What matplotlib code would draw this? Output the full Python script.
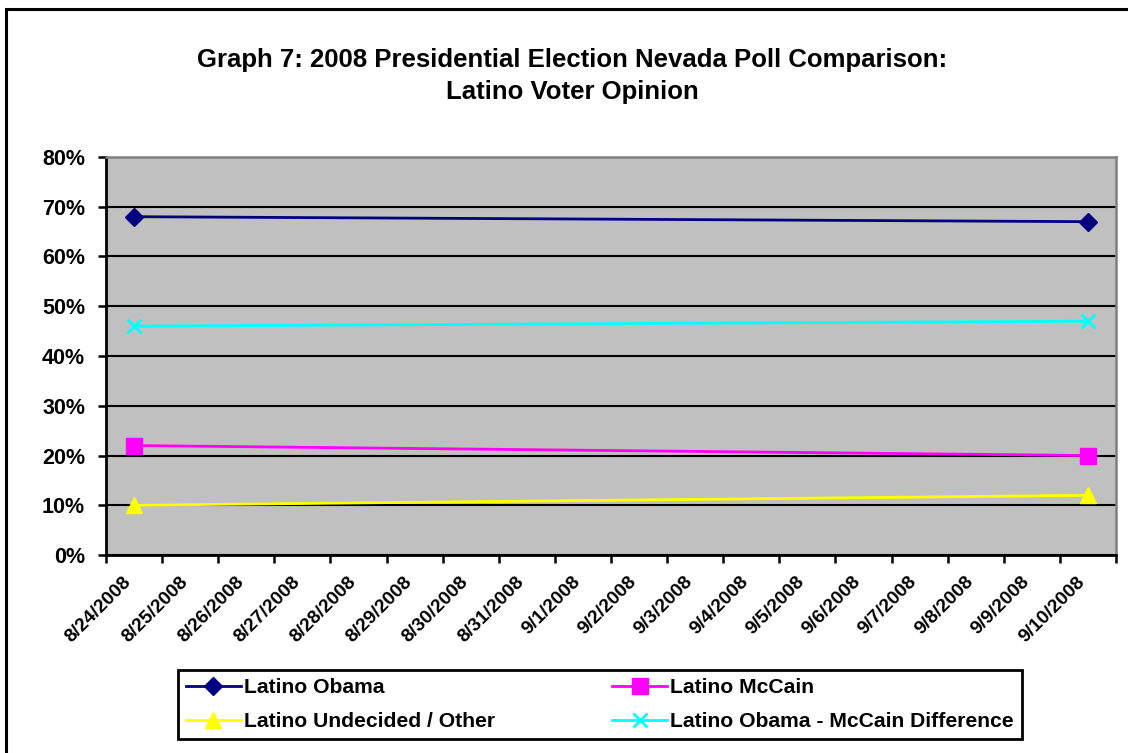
import matplotlib
matplotlib.use("Agg")
import matplotlib.pyplot as plt
from matplotlib.patches import Rectangle
from matplotlib.transforms import ScaledTranslation

# Poll dates shown along the category axis
dates = ["8/24/2008", "8/25/2008", "8/26/2008", "8/27/2008", "8/28/2008",
         "8/29/2008", "8/30/2008", "8/31/2008", "9/1/2008", "9/2/2008",
         "9/3/2008", "9/4/2008", "9/5/2008", "9/6/2008", "9/7/2008",
         "9/8/2008", "9/9/2008", "9/10/2008"]

# Poll dates that have readings (index into dates)
poll_idx = [0, 17]

# Shares in percent
obama = [68, 67]
mccain = [22, 20]
undecided = [10, 12]
difference = [46, 47]

y_ticks = [0, 10, 20, 30, 40, 50, 60, 70, 80]
y_labels = [f"{v}%" for v in y_ticks]

title = "Graph 7: 2008 Presidential Election Nevada Poll Comparison:\nLatino Voter Opinion"

plt.rcParams["font.family"] = ["Liberation Sans", "DejaVu Sans"]
plt.rcParams["font.weight"] = "bold"

W, H = 1128, 753
fig = plt.figure(figsize=(W / 100, H / 100), dpi=100)
fig.patch.set_facecolor("white")

# Chart-area border (runs off the right and bottom edges)
fig.patches.append(Rectangle((6 / W, -0.1), 1.2, 1 - 9 / H + 0.1,
                             transform=fig.transFigure, fill=False,
                             edgecolor="black", linewidth=2.2, zorder=0))

left, right, top, bottom = 106, 1116, 157, 555
ax = fig.add_axes([left / W, 1 - bottom / H, (right - left) / W, (bottom - top) / H])
ax.set_facecolor("#C0C0C0")

series = [
    (obama, "Latino Obama", "#000080", "D", 9.0, None),
    (mccain, "Latino McCain", "#FF00FF", "s", 11.0, None),
    (undecided, "Latino Undecided / Other", "#FFFF00", "^", 11.0, None),
    (difference, "Latino Obama - McCain Difference", "#00FFFF", "x", 10.5, 2.0),
]
handles = {}
for vals, label, color, marker, ms, mew in series:
    kw = dict(color=color, linewidth=2.0, marker=marker, markersize=ms,
              markerfacecolor=color, markeredgecolor=color, label=label,
              zorder=3, clip_on=False)
    if mew is not None:
        kw["markeredgewidth"] = mew
    (h,) = ax.plot(poll_idx, vals, **kw)
    handles[label] = h

ax.set_xlim(-0.5, len(dates) - 0.5)
ax.set_ylim(0, 80)

# Y axis
ax.set_yticks(y_ticks)
ax.set_yticklabels(y_labels, fontsize=15.5, fontweight="bold")
ax.yaxis.grid(True, color="black", linewidth=1.5)
ax.set_axisbelow(True)

# X axis: ticks on category boundaries, labels at category centres
ax.set_xticks([i - 0.5 for i in range(len(dates) + 1)])
ax.set_xticklabels([])
ax.set_xticks(range(len(dates)), minor=True)
ax.set_xticklabels(dates, minor=True, rotation=45, ha="right", va="top",
                   rotation_mode="anchor", fontsize=13.8, fontweight="bold")
ax.tick_params(axis="x", which="minor", length=0, pad=13)
ax.tick_params(axis="x", which="major", length=6, width=1.8, color="black", direction="out")
ax.tick_params(axis="y", length=6, width=1.8, color="black", direction="out", pad=9)
shift = ScaledTranslation(-8 / 72, 0, fig.dpi_scale_trans)
for lbl in ax.get_xticklabels(minor=True):
    lbl.set_transform(lbl.get_transform() + shift)

for side in ("left", "bottom"):
    ax.spines[side].set_color("black")
    ax.spines[side].set_linewidth(2.0)
for side in ("top", "right"):
    ax.spines[side].set_color("#808080")
    ax.spines[side].set_linewidth(1.8)

fig.text(572 / W, 1 - 76 / H, title, ha="center", va="center",
         fontsize=18.5, fontweight="bold", linespacing=1.45)

# Legend: two columns, row order Obama/McCain then Undecided/Difference
order = ["Latino Obama", "Latino Undecided / Other", "Latino McCain",
         "Latino Obama - McCain Difference"]
leg = fig.legend([handles[k] for k in order], order, ncol=2, loc="upper left",
                 bbox_to_anchor=(178 / W, 1 - 744 / H, (1022 - 178) / W, (744 - 670) / H),
                 mode="expand", fancybox=False, frameon=True, edgecolor="black",
                 framealpha=1.0,
                 prop={"size": 15.2, "weight": "bold"}, handlelength=2.6,
                 handletextpad=0.15, labelspacing=0.72, borderaxespad=0.0,
                 borderpad=0.38, columnspacing=1.0)
leg.get_frame().set_linewidth(2.0)

fig.savefig("out.png", dpi=100, facecolor="white")
